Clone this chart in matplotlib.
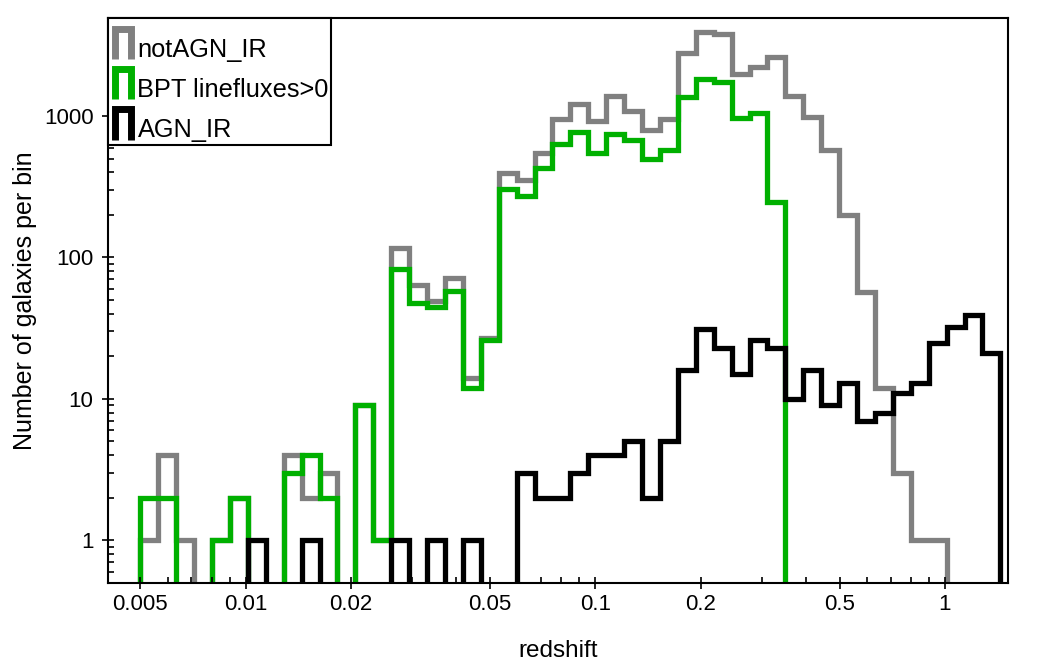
import numpy as np
import matplotlib
matplotlib.use("Agg")
import matplotlib.pyplot as plt
from matplotlib.legend_handler import HandlerBase
from matplotlib.lines import Line2D
from matplotlib.patches import StepPatch
from matplotlib.ticker import LogLocator, NullFormatter

plt.rcParams['font.family'] = ['Liberation Sans', 'DejaVu Sans']

# ---- data -------------------------------------------------------------
z_min, z_max, n_bins = 0.005, 1.44, 48
edges = np.logspace(np.log10(z_min), np.log10(z_max), n_bins + 1)

not_agn_ir = [1, 4, 1, 0, 1, 2, 0, 0, 4, 2, 3, 0, 9, 1, 117, 64, 49, 72, 14, 27,
              395, 355, 550, 950, 1210, 925, 1390, 1090, 800, 950, 2810, 3950,
              3830, 2000, 2230, 2630, 1390, 990, 575, 200, 57, 12, 3, 1, 1, 0, 0, 0]
bpt_linefluxes = [2, 2, 0, 0, 1, 2, 0, 0, 3, 4, 2, 0, 9, 1, 83, 48, 45, 58, 12, 26,
                  305, 273, 430, 633, 778, 547, 753, 677, 496, 574, 1374, 1820,
                  1745, 975, 1060, 245, 0, 0, 0, 0, 0, 0, 0, 0, 0, 0, 0, 0]
agn_ir = [0, 0, 0, 0, 0, 0, 1, 0, 0, 1, 0, 0, 0, 0, 1, 0, 1, 0, 1, 0,
          0, 3, 2, 2, 3, 4, 4, 5, 2, 5, 16, 31, 23, 15, 26, 23, 10, 16, 9, 13,
          7, 8, 11, 13, 25, 32, 39, 21]

series_labels = ['notAGN_IR', 'BPT linefluxes>0', 'AGN_IR']
series_colors = ['#808080', '#00b000', '#000000']

xticks = [0.005, 0.01, 0.02, 0.05, 0.1, 0.2, 0.5, 1]
xticklabels = ['0.005', '0.01', '0.02', '0.05', '0.1', '0.2', '0.5', '1']
yticks = [1, 10, 100, 1000]
yticklabels = ['1', '10', '100', '1000']

LEG_FS = 18.3


class PiHandler(HandlerBase):
    """Draws a step-shaped (Pi-like) legend glyph."""
    def create_artists(self, legend, orig_handle, xdescent, ydescent,
                       width, height, fontsize, trans):
        x0 = -xdescent + 0.18 * width
        x1 = -xdescent + 0.80 * width
        y0 = -0.09 * fontsize
        y1 = 1.1 * fontsize
        ln = Line2D([x0, x0, x1, x1], [y0, y1, y1, y0],
                    color=orig_handle.get_edgecolor(), lw=5.0,
                    solid_joinstyle='miter', solid_capstyle='butt',
                    transform=trans)
        return [ln]


fig = plt.figure(figsize=(10.46, 6.67), dpi=100)
ax = fig.add_axes([0.10325, 0.1264, 0.8604, 0.8466])
ax.set_xscale('log')
ax.set_yscale('log')

floor = 1e-3
for vals, col, lab in zip([not_agn_ir, bpt_linefluxes, agn_ir], series_colors, series_labels):
    v = np.asarray(vals, dtype=float)
    ax.stairs(np.where(v > 0, v, floor), edges, baseline=floor, color=col,
              lw=3.8, label=lab, joinstyle='miter', fill=False)

ax.set_xlim(0.00404, 1.514)
ax.set_ylim(0.5, 4950)

ax.set_xticks(xticks, xticklabels)
ax.set_yticks(yticks, yticklabels)
ax.xaxis.set_minor_locator(LogLocator(base=10, subs=np.arange(2, 10), numticks=20))
ax.yaxis.set_minor_locator(LogLocator(base=10, subs=np.arange(2, 10), numticks=20))
ax.xaxis.set_minor_formatter(NullFormatter())
ax.yaxis.set_minor_formatter(NullFormatter())
ax.tick_params(which='major', direction='inout', length=9, width=1.2,
               labelsize=16, pad=4, top=False, right=False)
ax.tick_params(which='minor', direction='in', length=4, width=1.2,
               top=False, right=False)
ax.tick_params(axis='y', which='major', pad=6)
for s in ax.spines.values():
    s.set_linewidth(1.5)

ax.set_xlabel('redshift', fontsize=17.5, labelpad=18)
ax.set_ylabel('Number of galaxies per bin', fontsize=18, labelpad=5)

leg = ax.legend(loc='upper left', bbox_to_anchor=(0, 1), borderaxespad=0,
                fontsize=LEG_FS, frameon=True, fancybox=False, framealpha=1,
                edgecolor='black', handlelength=1.0, handletextpad=0.06,
                borderpad=0.1, labelspacing=0.64,
                title=' ', title_fontsize=1,
                handler_map={StepPatch: PiHandler()})
leg.get_frame().set_linewidth(1.5)

fig.savefig('out.png', dpi=100)
